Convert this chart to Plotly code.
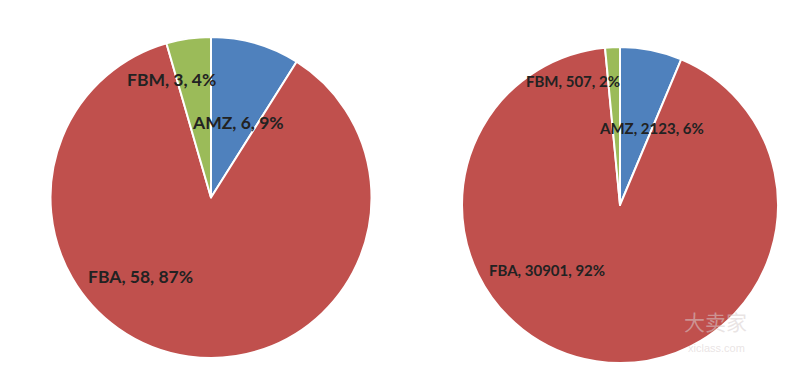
import plotly.graph_objects as go

categories = ["AMZ", "FBA", "FBM"]
left_values = [6, 58, 3]
right_values = [2123, 30901, 507]
colors = ["#4F81BD", "#C0504D", "#9BBB59"]

W, H = 800, 371
OFF = 8  # page body margin offset

def px(x):
    return (x - OFF) / W

def py(y):
    return 1 - (y - OFF) / H

fig = go.Figure()
for vals, dom in [
    (left_values, dict(x=[px(50), px(372)], y=[py(358), py(37)])),
    (right_values, dict(x=[px(462), px(778)], y=[py(364), py(46)])),
]:
    fig.add_trace(go.Pie(
        labels=categories, values=vals, sort=False, direction="clockwise",
        rotation=0, textinfo="none", hoverinfo="label+value+percent",
        marker=dict(colors=colors, line=dict(color="white", width=2)),
        domain=dom, showlegend=False,
    ))

# label positions (pixel centers) per category
left_pos = {"AMZ": (238, 123), "FBA": (140, 276), "FBM": (171, 79)}
right_pos = {"AMZ": (651, 128), "FBA": (547, 270), "FBM": (573, 81)}

annotations = []
for vals, pos, size in [(left_values, left_pos, 17.5), (right_values, right_pos, 15)]:
    total = sum(vals)
    for c, v in zip(categories, vals):
        pct = round(v / total * 100)
        x, y = pos[c]
        annotations.append(dict(
            x=px(x), y=py(y), xref="paper", yref="paper", showarrow=False,
            text=f"<b>{c}, {v}, {pct}%</b>",
            font=dict(family="Lato, Carlito, Arial", size=size, color="#222222"),
            xanchor="center", yanchor="middle",
        ))

# watermark
annotations.append(dict(x=px(715), y=py(321), xref="paper", yref="paper", showarrow=False,
                        xanchor="center", yanchor="middle",
                        text="大卖家", font=dict(family="Noto Sans CJK SC", size=21, color="rgba(215,205,205,0.55)")))
annotations.append(dict(x=px(716), y=py(348), xref="paper", yref="paper", showarrow=False,
                        xanchor="center", yanchor="middle",
                        text="xiclass.com", font=dict(family="Arial", size=11, color="rgba(215,205,205,0.55)")))

fig.update_layout(
    width=W, height=H, margin=dict(l=0, r=0, t=0, b=0),
    paper_bgcolor="white", plot_bgcolor="white",
    annotations=annotations,
)
fig.write_html("out.html")
